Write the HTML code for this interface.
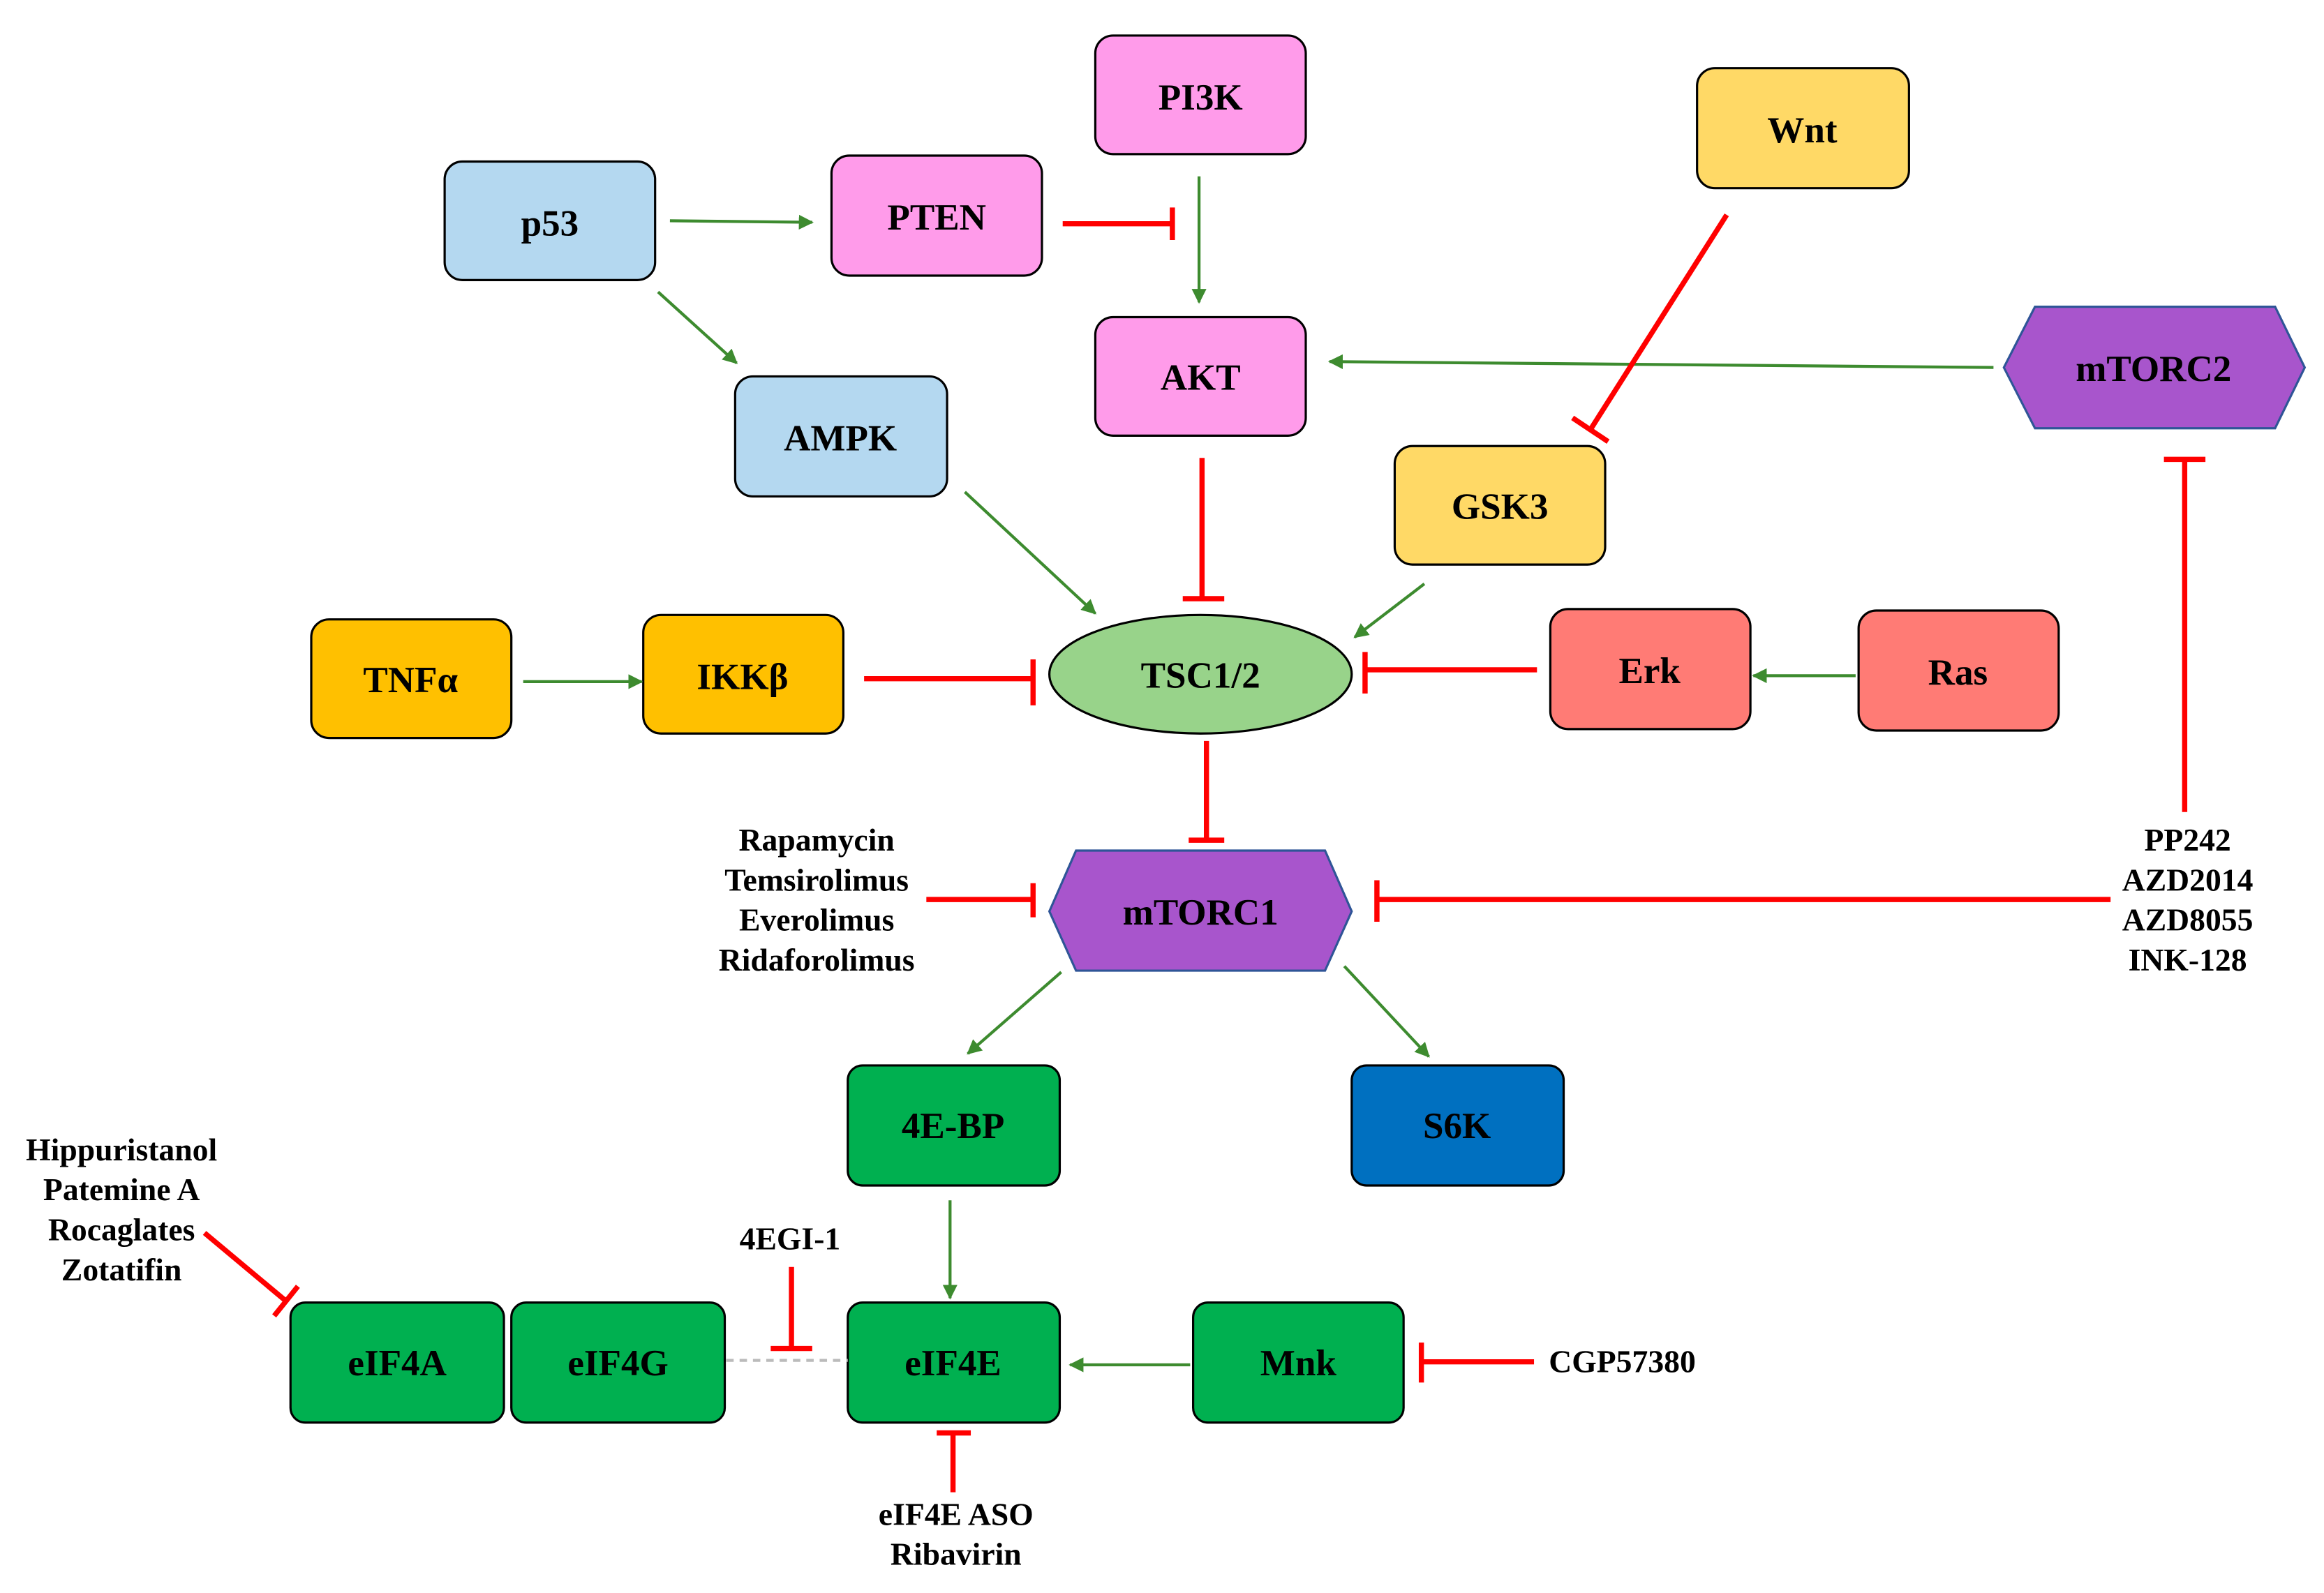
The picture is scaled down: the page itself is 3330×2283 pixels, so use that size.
<!DOCTYPE html>
<html><head><meta charset="utf-8"><style>
html,body{margin:0;padding:0;background:#fff;}
svg{display:block;}
text{font-family:"Liberation Serif",serif;font-weight:bold;fill:#000;}
</style></head><body>
<svg width="3330" height="2283" viewBox="0 0 1568 1075" xmlns="http://www.w3.org/2000/svg">
<defs>
<marker id="ga" viewBox="0 0 10 10" refX="9" refY="5" markerWidth="5" markerHeight="5" orient="auto" markerUnits="strokeWidth"><path d="M0,0 L10,5 L0,10 z" fill="#3d8b2f"/></marker>
</defs>
<g stroke="#000" stroke-width="1.5">
<rect x="739" y="24" width="142" height="80" rx="12" fill="#FF9BEA"/>
<rect x="300" y="109" width="142" height="80" rx="12" fill="#B4D8F0"/>
<rect x="561" y="105" width="142" height="81" rx="12" fill="#FF9BEA"/>
<rect x="1145" y="46" width="143" height="81" rx="12" fill="#FFD966"/>
<rect x="739" y="214" width="142" height="80" rx="12" fill="#FF9BEA"/>
<rect x="496" y="254" width="143" height="81" rx="12" fill="#B4D8F0"/>
<rect x="941" y="301" width="142" height="80" rx="12" fill="#FFD966"/>
<rect x="210" y="418" width="135" height="80" rx="12" fill="#FFC000"/>
<rect x="434" y="415" width="135" height="80" rx="12" fill="#FFC000"/>
<ellipse cx="810" cy="455" rx="102" ry="40" fill="#98D38A"/>
<rect x="1046" y="411" width="135" height="81" rx="12" fill="#FF7B75"/>
<rect x="1254" y="412" width="135" height="81" rx="12" fill="#FF7B75"/>
<rect x="572" y="719" width="143" height="81" rx="10" fill="#00B050"/>
<rect x="912" y="719" width="143" height="81" rx="10" fill="#0070C0"/>
<rect x="196" y="879" width="144" height="81" rx="10" fill="#00B050"/>
<rect x="345" y="879" width="144" height="81" rx="10" fill="#00B050"/>
<rect x="572" y="879" width="143" height="81" rx="10" fill="#00B050"/>
<rect x="805" y="879" width="142" height="81" rx="10" fill="#00B050"/>
</g>
<polygon points="1352,248 1373,207 1535,207 1555,248 1535,289 1373,289" fill="#A855CC" stroke="#2F5597" stroke-width="1.5"/>
<polygon points="708,615 726,574 894,574 912,615 894,655 726,655" fill="#A855CC" stroke="#2F5597" stroke-width="1.5"/>
<g font-size="25" text-anchor="middle">
<text x="810" y="74">PI3K</text>
<text x="371" y="159">p53</text>
<text x="632" y="155">PTEN</text>
<text x="1216" y="96">Wnt</text>
<text x="810" y="263">AKT</text>
<text x="567" y="304">AMPK</text>
<text x="1012" y="350">GSK3</text>
<text x="277" y="467">TNFα</text>
<text x="501" y="465">IKKβ</text>
<text x="810" y="464">TSC1/2</text>
<text x="1113" y="461">Erk</text>
<text x="1321" y="462">Ras</text>
<text x="1453" y="257">mTORC2</text>
<text x="810" y="624">mTORC1</text>
<text x="643" y="768">4E-BP</text>
<text x="983" y="768">S6K</text>
<text x="268" y="928">eIF4A</text>
<text x="417" y="928">eIF4G</text>
<text x="643" y="928">eIF4E</text>
<text x="876" y="928">Mnk</text>
</g>
<g font-size="21.5" text-anchor="middle">
<text x="551" y="574">Rapamycin</text>
<text x="551" y="601">Temsirolimus</text>
<text x="551" y="628">Everolimus</text>
<text x="551" y="655">Ridaforolimus</text>
<text x="1476" y="574">PP242</text>
<text x="1476" y="601">AZD2014</text>
<text x="1476" y="628">AZD8055</text>
<text x="1476" y="655">INK-128</text>
<text x="82" y="783">Hippuristanol</text>
<text x="82" y="810">Patemine A</text>
<text x="82" y="837">Rocaglates</text>
<text x="82" y="864">Zotatifin</text>
<text x="533" y="843">4EGI-1</text>
<text x="645" y="1029">eIF4E ASO</text>
<text x="645" y="1056">Ribavirin</text>
<text x="1045" y="926" text-anchor="start">CGP57380</text>
</g>
<g stroke="#3d8b2f" stroke-width="2" fill="none" marker-end="url(#ga)">
<line x1="452" y1="149" x2="548" y2="150"/>
<line x1="444" y1="197" x2="497" y2="245"/>
<line x1="809" y1="119" x2="809" y2="204"/>
<line x1="1345" y1="248" x2="897" y2="244"/>
<line x1="651" y1="332" x2="739" y2="414"/>
<line x1="961" y1="394" x2="914" y2="430"/>
<line x1="353" y1="460" x2="433" y2="460"/>
<line x1="1252" y1="456" x2="1183" y2="456"/>
<line x1="716" y1="656" x2="653" y2="711"/>
<line x1="907" y1="652" x2="964" y2="713"/>
<line x1="641" y1="810" x2="641" y2="876"/>
<line x1="803" y1="921" x2="722" y2="921"/>
</g>
<line x1="490" y1="918" x2="572" y2="918" stroke="#bbb" stroke-width="2" stroke-dasharray="5,4"/>
<g stroke="#FF0000" stroke-width="3.5" fill="none">
<line x1="717" y1="151" x2="791" y2="151"/><line x1="791" y1="140" x2="791" y2="162"/>
<line x1="1165" y1="145" x2="1073" y2="290"/><line x1="1061" y1="282" x2="1085" y2="298"/>
<line x1="811" y1="309" x2="811" y2="404"/><line x1="798" y1="404" x2="826" y2="404"/>
<line x1="583" y1="458" x2="697" y2="458"/><line x1="697" y1="445" x2="697" y2="476"/>
<line x1="1037" y1="452" x2="921" y2="452"/><line x1="921" y1="440" x2="921" y2="468"/>
<line x1="814" y1="500" x2="814" y2="567"/><line x1="802" y1="567" x2="826" y2="567"/>
<line x1="625" y1="607" x2="697" y2="607"/><line x1="697" y1="596" x2="697" y2="619"/>
<line x1="1424" y1="607" x2="929" y2="607"/><line x1="929" y1="594" x2="929" y2="622"/>
<line x1="1474" y1="548" x2="1474" y2="310"/><line x1="1460" y1="310" x2="1488" y2="310"/>
<line x1="138" y1="832" x2="193" y2="878"/><line x1="185" y1="888" x2="201" y2="868"/>
<line x1="534" y1="855" x2="534" y2="910"/><line x1="520" y1="910" x2="548" y2="910"/>
<line x1="1035" y1="919" x2="959" y2="919"/><line x1="959" y1="906" x2="959" y2="933"/>
<line x1="643" y1="1007" x2="643" y2="967"/><line x1="632" y1="967" x2="655" y2="967"/>
</g>
</svg>
</body></html>
